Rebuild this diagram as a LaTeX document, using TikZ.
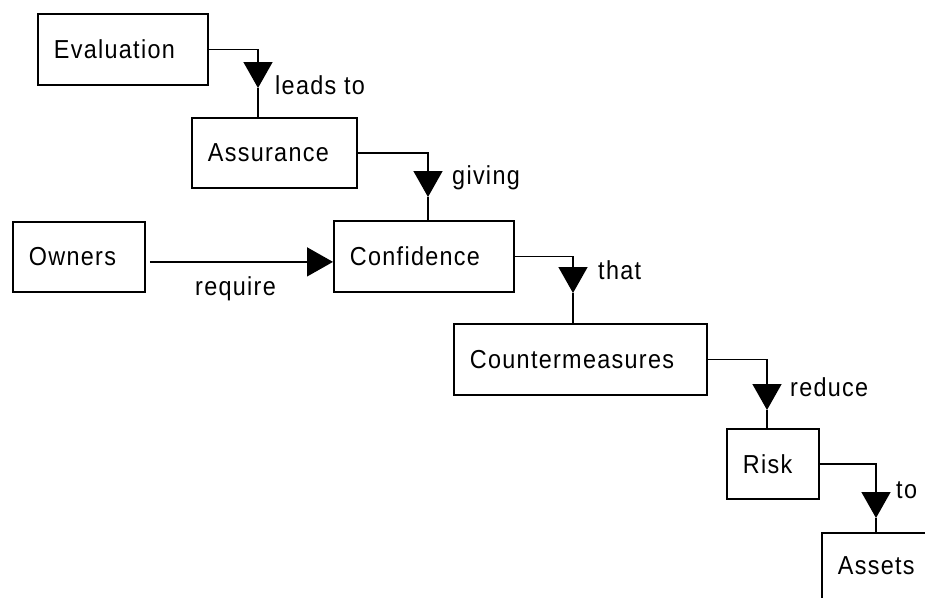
\documentclass[tikz,border=0pt]{standalone}
\usepackage{fontspec}
\setmainfont[LetterSpace=5,FakeStretch=0.9]{Liberation Sans}
\usetikzlibrary{arrows.meta,calc}
\tikzset{
  box/.style={draw, line width=1.8pt, anchor=north west, inner xsep=16pt, inner ysep=0pt, align=left, font=\fontsize{26}{28}\selectfont},
  lbl/.style={anchor=west, inner sep=0pt, font=\fontsize{26}{28}\selectfont},
  link/.style={line width=1.5pt},
  tip/.style={line width=1.5pt, -{Triangle[width=29pt,length=26pt]}}
}
\begin{document}
\begin{tikzpicture}[x=1pt,y=-1pt]
\useasboundingbox (0,0) rectangle (925,597);
\clip (0,0) rectangle (925,597);
% boxes
\node[box, minimum width=170pt, minimum height=71pt, text width=138pt] (ev) at (37,13) {Evaluation};
\node[box, minimum width=165pt, minimum height=70pt, text width=133pt] (as) at (191,117) {Assurance};
\node[box, minimum width=132pt, minimum height=70pt, text width=100pt] (ow) at (12,221) {Owners};
\node[box, minimum width=180pt, minimum height=71pt, text width=148pt] (co) at (333,220) {Confidence};
\node[box, minimum width=253pt, minimum height=71pt, text width=221pt] (cm) at (453,323) {Countermeasures};
\node[box, minimum width=92pt, minimum height=70pt, text width=60pt] (ri) at (726,428) {Risk};
\node[box, minimum width=200pt, minimum height=66pt, text width=168pt] (at) at (821,532) {Assets};
% arrow tip points
\coordinate (t1) at (258,88);
\coordinate (t2) at (428,197);
\coordinate (t3) at (573,293);
\coordinate (t4) at (767,410);
\coordinate (t5) at (876,518);
% connectors
\draw[tip] (ev.east) -| (t1);
\draw[link] (t1) -- (t1 |- as.north);
\draw[tip] (as.east) -| (t2);
\draw[link] (t2) -- (t2 |- co.north);
\draw[tip] (co.east) -| (t3);
\draw[link] (t3) -- (t3 |- cm.north);
\draw[tip] (cm.east) -| (t4);
\draw[link] (t4) -- (t4 |- ri.north);
\draw[tip] (ri.east) -| (t5);
\draw[link] (t5) -- (t5 |- at.north);
\coordinate (os) at ($(ow.east)+(4,5)$);
\draw[tip] (os) -- (os -| co.west);
% labels
\node[lbl] (l1) at (275,85) {leads to};
\node[lbl] (l2) at (452,178) {giving};
\node[lbl] (l3) at (598,270) {that};
\node[lbl] (l4) at (790,387) {reduce};
\node[lbl] (l5) at (896,490) {to};
\node[lbl] (l6) at (195,289) {require};
\end{tikzpicture}
\end{document}
